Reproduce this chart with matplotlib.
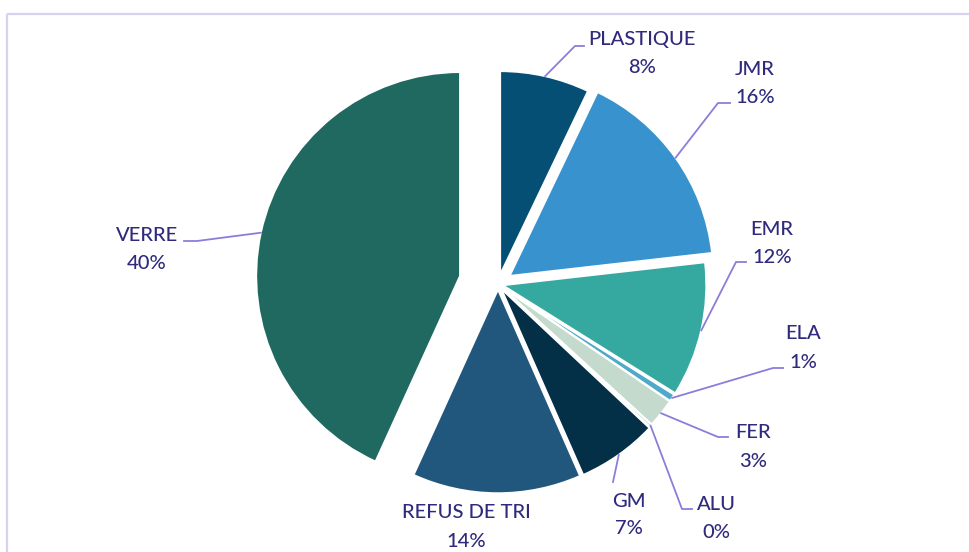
import matplotlib
matplotlib.use("Agg")
import matplotlib.pyplot as plt
import numpy as np

# ---- data ----
categories = ["PLASTIQUE", "JMR", "EMR", "ELA", "FER", "ALU", "GM", "REFUS DE TRI", "VERRE"]
shares = [7.1, 16.1, 10.7, 0.6, 2.3, 0.2, 6.4, 13.4, 43.2]          # slice sizes
pct_labels = ["8%", "16%", "12%", "1%", "3%", "0%", "7%", "14%", "40%"]  # labels as printed
colors = ["#044F73", "#3892CE", "#35A9A0", "#4FA9C9", "#C3DACD", "#9CC3B6",
          "#032F47", "#21577D", "#1F6961"]
explode = [0.046, 0.069, 0.022, 0.02, 0.02, 0.02, 0.025, 0.025, 0.19]  # fraction of radius

# ---- layout (pixel-like data coordinates, y up) ----
W, H = 970, 552
cx, cy, R = 498, 267.8, 204
text_color = "#2F2A7C"
leader_color = "#8A7EDB"

# label anchor: (x center, baseline of name, baseline of pct)
label_pos = {
    "PLASTIQUE": (642, 507, 479),
    "JMR": (755, 477, 449),
    "EMR": (772, 317, 289),
    "ELA": (803, 213, 184),
    "FER": (753, 114, 85),
    "ALU": (716, 42, 14),
    "GM": (629, 45, 18),
    "REFUS DE TRI": (466, 34, 5),
    "VERRE": (147, 311, 283),
}
# leader elbow and end points
leaders = {
    "PLASTIQUE": [(575, 506), (584, 506)],
    "JMR": [(718, 449), (730, 449)],
    "EMR": [(736, 290), (746, 290)],
    "ELA": [(773, 184), (783, 184)],
    "FER": [(718, 115), (728, 115)],
    "ALU": [(682, 43), (692, 43)],
    "GM": [(613, 70)],
    "VERRE": [(197, 311), (184, 311)],
}

plt.rcParams['font.family'] = ['Lato', 'DejaVu Sans']
fig = plt.figure(figsize=(W / 100, H / 100), dpi=100)
ax = fig.add_axes([0, 0, 1, 1])

wedges, _ = ax.pie(shares, colors=colors, explode=[e * R for e in explode], startangle=90,
                   counterclock=False, center=(cx, cy), radius=R,
                   wedgeprops=dict(edgecolor="white", linewidth=1.5))
ax.set_xlim(0, W)
ax.set_ylim(0, H)
ax.set_aspect("equal")
ax.axis("off")

# border (top and left)
ax.plot([7.5, W], [538, 538], color="#D6D2F0", lw=1.6, solid_capstyle="butt")
ax.plot([7.5, 7.5], [538, 0], color="#D6D2F0", lw=1.6, solid_capstyle="butt")

for w, cat, pct, ex in zip(wedges, categories, pct_labels, explode):
    mid = np.deg2rad((w.theta1 + w.theta2) / 2)
    if cat in leaders:
        rr = R * (1 + ex)
        sx, sy = cx + rr * np.cos(mid), cy + rr * np.sin(mid)
        pts = [(sx, sy)] + leaders[cat]
        xs, ys = zip(*pts)
        ax.plot(xs, ys, color=leader_color, lw=1.3)
    x, b1, b2 = label_pos[cat]
    ax.text(x, b1, cat, ha="center", va="baseline", fontsize=14.5, color=text_color,
            fontweight="medium")
    ax.text(x, b2, pct, ha="center", va="baseline", fontsize=14.5, color=text_color,
            fontweight="medium")

fig.savefig("out.png", dpi=100, facecolor="white")
